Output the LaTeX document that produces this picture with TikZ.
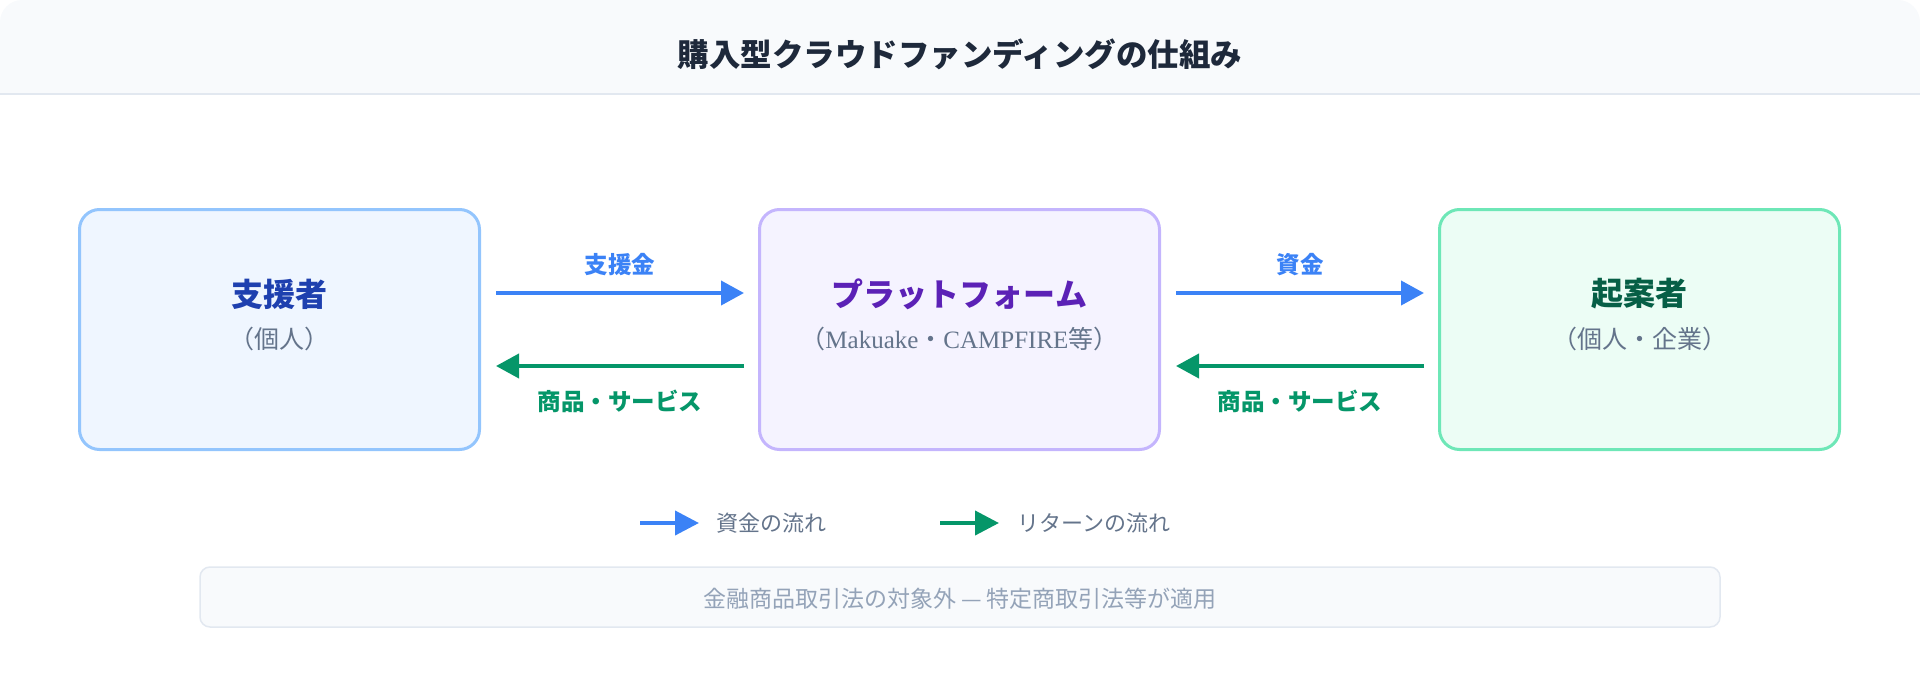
\documentclass[tikz,border=0pt]{standalone}
\usepackage{fontspec}
\setmainfont{Noto Sans CJK JP}
\newfontfamily\jp{Noto Sans CJK JP}
\newfontfamily\lserif{Liberation Serif}
\usetikzlibrary{arrows.meta}
\definecolor{hdrbg}{HTML}{F8FAFC}
\definecolor{hdrline}{HTML}{E2E8F0}
\definecolor{titlec}{HTML}{1E293B}
\definecolor{subc}{HTML}{64748B}
\definecolor{footc}{HTML}{94A3B8}
\definecolor{bluefill}{HTML}{EFF6FF}
\definecolor{bluedraw}{HTML}{93C5FD}
\definecolor{bluetext}{HTML}{1E40AF}
\definecolor{purfill}{HTML}{F5F3FF}
\definecolor{purdraw}{HTML}{C4B5FD}
\definecolor{purtext}{HTML}{5B21B6}
\definecolor{grnfill}{HTML}{ECFDF5}
\definecolor{grndraw}{HTML}{6EE7B7}
\definecolor{grntext}{HTML}{065F46}
\definecolor{flowblue}{HTML}{3B82F6}
\definecolor{flowgreen}{HTML}{059669}
\tikzset{
  card/.style={rounded corners=20pt, line width=3pt, minimum width=400pt, minimum height=240pt, inner sep=0pt},
  cardtitle/.style={font=\fontsize{32}{36}\selectfont\bfseries, inner sep=0pt, anchor=center},
  cardsub/.style={font=\fontsize{25}{29}\selectfont, text=subc, inner sep=0pt, anchor=center},
  flowlabel/.style={font=\fontsize{23.5}{27}\selectfont\bfseries, inner sep=0pt, anchor=center},
  moneyflow/.style={draw=flowblue, line width=4pt, -{Triangle[length=23pt, width=24pt]}},
  returnflow/.style={draw=flowgreen, line width=4pt, -{Triangle[length=23pt, width=24pt]}},
  legendtext/.style={font=\fontsize{22}{26}\selectfont, text=subc, inner sep=0pt, anchor=west},
  legarrow/.style={line width=4pt, -{Triangle[length=24pt, width=24pt]}}
}
\begin{document}
\begin{tikzpicture}[x=1pt, y=-1pt]
\useasboundingbox (0,0) rectangle (1920,680);
% header
\fill[hdrbg, rounded corners=22pt] (0,94) -- (0,0) -- (1920,0) -- (1920,94) -- cycle;
\fill[hdrbg] (0,40) rectangle (1920,94);
\draw[hdrline, line width=1.5pt] (0,94) -- (1920,94);
\node[font=\fontsize{31.5}{36}\selectfont\bfseries, text=titlec, inner sep=0pt] (title) at (960,54) {購入型クラウドファンディングの仕組み};
% cards
\node[card, draw=bluedraw, fill=bluefill] (sup) at (279.5,329.5) {};
\node[card, draw=purdraw, fill=purfill] (plat) at (959.5,329.5) {};
\node[card, draw=grndraw, fill=grnfill] (prop) at (1639.5,329.5) {};
\node[cardtitle, text=bluetext] (supt) at (279.5,294) {支援者};
\node[cardsub] (sups) at (279.5,339) {（個人）};
\node[cardtitle, text=purtext] (platt) at (959.5,294) {プラットフォーム};
\node[cardsub] (plats) at (959.5,339) {（{\lserif Makuake}・{\lserif CAMPFIRE}等）};
\node[cardtitle, text=grntext] (propt) at (1639.5,294) {起案者};
\node[cardsub] (props) at (1639.5,339) {（個人・企業）};
% flow anchors
\coordinate (a1s) at (496,293); \coordinate (a1e) at (744,293);
\coordinate (b1s) at (744,366); \coordinate (b1e) at (496,366);
\coordinate (a2s) at (1176,293); \coordinate (a2e) at (1424,293);
\coordinate (b2s) at (1424,366); \coordinate (b2e) at (1176,366);
\draw[moneyflow] (a1s) -- (a1e);
\draw[returnflow] (b1s) -- (b1e);
\draw[moneyflow] (a2s) -- (a2e);
\draw[returnflow] (b2s) -- (b2e);
\node[flowlabel, text=flowblue] (l1) at (620,265) {支援金};
\node[flowlabel, text=flowgreen] (l2) at (620,401) {商品・サービス};
\node[flowlabel, text=flowblue] (l3) at (1300,265) {資金};
\node[flowlabel, text=flowgreen] (l4) at (1300,401) {商品・サービス};
% legend
\coordinate (lg1s) at (640,523); \coordinate (lg1e) at (699,523);
\coordinate (lg2s) at (940,523); \coordinate (lg2e) at (999,523);
\draw[legarrow, flowblue] (lg1s) -- (lg1e);
\node[legendtext] (lt1) at (716,523) {資金の流れ};
\draw[legarrow, flowgreen] (lg2s) -- (lg2e);
\node[legendtext] (lt2) at (1017,523) {リターンの流れ};
% footer
\node[draw=hdrline, fill=hdrbg, line width=1.5pt, rounded corners=10pt, minimum width=1520pt, minimum height=60pt, inner sep=0pt] (foot) at (960,597) {};
\node[font=\fontsize{23}{27}\selectfont, text=footc, inner sep=0pt] (foott) at (960,599) {金融商品取引法の対象外 — 特定商取引法等が適用};
\end{tikzpicture}
\end{document}
